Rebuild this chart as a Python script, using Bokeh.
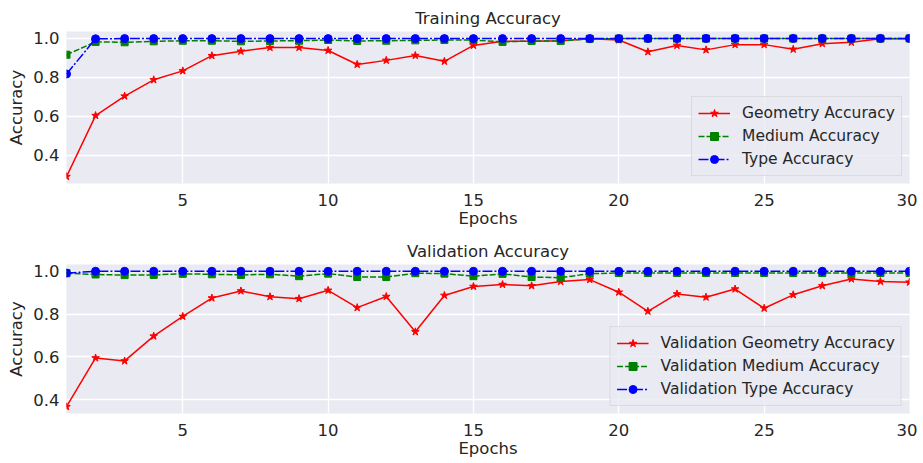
from bokeh.plotting import figure
from bokeh.layouts import column
from bokeh.models import FixedTicker, PrintfTickFormatter, Range1d, Legend, LegendItem
from bokeh.embed import file_html
from bokeh.resources import INLINE

epochs = list(range(1, 31))

train_geometry = [0.289, 0.603, 0.703, 0.787, 0.833, 0.911, 0.934, 0.953, 0.953, 0.938,
                  0.866, 0.887, 0.912, 0.882, 0.964, 0.985, 0.985, 0.988, 0.998, 0.992,
                  0.931, 0.964, 0.941, 0.968, 0.968, 0.944, 0.973, 0.980, 0.998, 0.998]
train_medium = [0.916, 0.982, 0.980, 0.985, 0.988, 0.988, 0.985, 0.987, 0.988, 0.992,
                0.987, 0.988, 0.990, 0.992, 0.992, 0.982, 0.987, 0.987, 0.998, 0.999,
                0.999, 0.999, 0.999, 0.999, 0.999, 0.999, 0.999, 0.999, 0.999, 1.000]
train_type = [0.817, 0.998, 0.999, 0.999, 0.999, 0.999, 0.999, 0.999, 0.999, 0.999,
              0.999, 0.999, 0.999, 0.999, 0.999, 0.999, 0.999, 0.999, 0.999, 0.999,
              1.000, 1.000, 1.000, 1.000, 1.000, 1.000, 1.000, 1.000, 1.000, 1.000]

val_geometry = [0.367, 0.595, 0.581, 0.697, 0.789, 0.875, 0.908, 0.881, 0.872, 0.911,
                0.830, 0.882, 0.717, 0.887, 0.929, 0.938, 0.932, 0.952, 0.961, 0.902,
                0.813, 0.894, 0.879, 0.917, 0.827, 0.890, 0.932, 0.964, 0.952, 0.949]
val_medium = [0.991, 0.985, 0.982, 0.983, 0.988, 0.986, 0.983, 0.986, 0.977, 0.989,
              0.973, 0.973, 0.991, 0.989, 0.977, 0.988, 0.973, 0.970, 0.989, 0.992,
              0.992, 0.992, 0.992, 0.992, 0.992, 0.992, 0.992, 0.992, 0.992, 0.992]
val_type = [0.992, 1.000, 1.000, 1.000, 1.000, 1.000, 1.000, 1.000, 1.000, 1.000,
            1.000, 1.000, 1.000, 1.000, 1.000, 1.000, 1.000, 1.000, 1.000, 1.000,
            1.000, 1.000, 1.000, 1.000, 1.000, 1.000, 1.000, 1.000, 1.000, 1.000]

x_ticks = [5, 10, 15, 20, 25, 30]
y_ticks = [0.4, 0.6, 0.8, 1.0]

train_labels = ["Geometry Accuracy", "Medium Accuracy", "Type Accuracy"]
val_labels = ["Validation Geometry Accuracy", "Validation Medium Accuracy",
              "Validation Type Accuracy"]

FONT = "DejaVu Sans"
TXT = "#262626"
BG = "#EAEAF2"

styles = [
    dict(color="#FF0000", dash="solid", marker="star", size=8),
    dict(color="#008000", dash="6 2", marker="square", size=7),
    dict(color="#0000FF", dash="10 2 2 2", marker="circle", size=8),
]


def make(title, series, labels, height, border_top, border_bottom):
    lo = min(min(s) for s in series)
    hi = max(max(s) for s in series)
    pad = 0.05 * (hi - lo)
    p = figure(width=917, height=height, output_backend="svg", toolbar_location=None,
               x_range=Range1d(1, 30), y_range=Range1d(lo - pad, hi + pad),
               min_border_left=66, min_border_right=8,
               min_border_top=border_top, min_border_bottom=border_bottom,
               background_fill_color=BG, border_fill_color="white",
               outline_line_color=None)
    p.title.text = title
    p.title.align = "center"
    p.title.text_font = FONT
    p.title.text_font_size = "16.5px"
    p.title.text_font_style = "normal"
    p.title.text_color = TXT
    p.title.standoff = 8

    for ax in (p.xaxis[0], p.yaxis[0]):
        ax.axis_line_color = None
        ax.major_tick_line_color = None
        ax.minor_tick_line_color = None
        ax.major_tick_out = 0
        ax.major_tick_in = 0
        ax.minor_tick_out = 0
        ax.minor_tick_in = 0
        ax.major_label_text_font = FONT
        ax.major_label_text_font_size = "16.5px"
        ax.major_label_text_color = TXT
        ax.axis_label_text_font = FONT
        ax.axis_label_text_font_size = "16.5px"
        ax.axis_label_text_font_style = "normal"
        ax.axis_label_text_color = TXT

    p.xaxis.ticker = FixedTicker(ticks=x_ticks)
    p.yaxis.ticker = FixedTicker(ticks=y_ticks)
    p.yaxis.formatter = PrintfTickFormatter(format="%.1f")
    p.xaxis.axis_label = "Epochs"
    p.yaxis.axis_label = "Accuracy"
    p.xaxis.major_label_standoff = 10
    p.xaxis.axis_label_standoff = 0
    p.yaxis.major_label_standoff = 7
    p.yaxis.axis_label_standoff = 4

    p.xgrid.ticker = FixedTicker(ticks=x_ticks)
    p.ygrid.ticker = FixedTicker(ticks=y_ticks)
    for g in (p.xgrid[0], p.ygrid[0]):
        g.grid_line_color = "white"
        g.grid_line_width = 1.3

    items = []
    for s, lab, st in zip(series, labels, styles):
        r1 = p.line(epochs, s, line_color=st["color"], line_width=1.5, line_dash=st["dash"])
        r2 = p.scatter(epochs, s, marker=st["marker"], size=st["size"],
                       fill_color=st["color"], line_color=st["color"])
        items.append(LegendItem(label=lab, renderers=[r1, r2]))

    leg = Legend(items=items, location="bottom_right")
    leg.margin = 7
    leg.padding = 6
    leg.spacing = 3
    leg.label_height = 20
    leg.glyph_height = 20
    leg.glyph_width = 32
    leg.label_standoff = 12
    leg.label_text_font = FONT
    leg.label_text_font_size = "15.5px"
    leg.label_text_color = TXT
    leg.background_fill_color = BG
    leg.background_fill_alpha = 0.8
    leg.border_line_color = "#CCCCCC"
    leg.border_line_width = 1
    p.add_layout(leg, "center")
    return p


p1 = make("Training Accuracy", [train_geometry, train_medium, train_type], train_labels,
          235, 31, 52)
p2 = make("Validation Accuracy", [val_geometry, val_medium, val_type], val_labels,
          225, 26, 46)

p = column(p1, p2, spacing=0)
open("out.html", "w").write(file_html(p, INLINE))
